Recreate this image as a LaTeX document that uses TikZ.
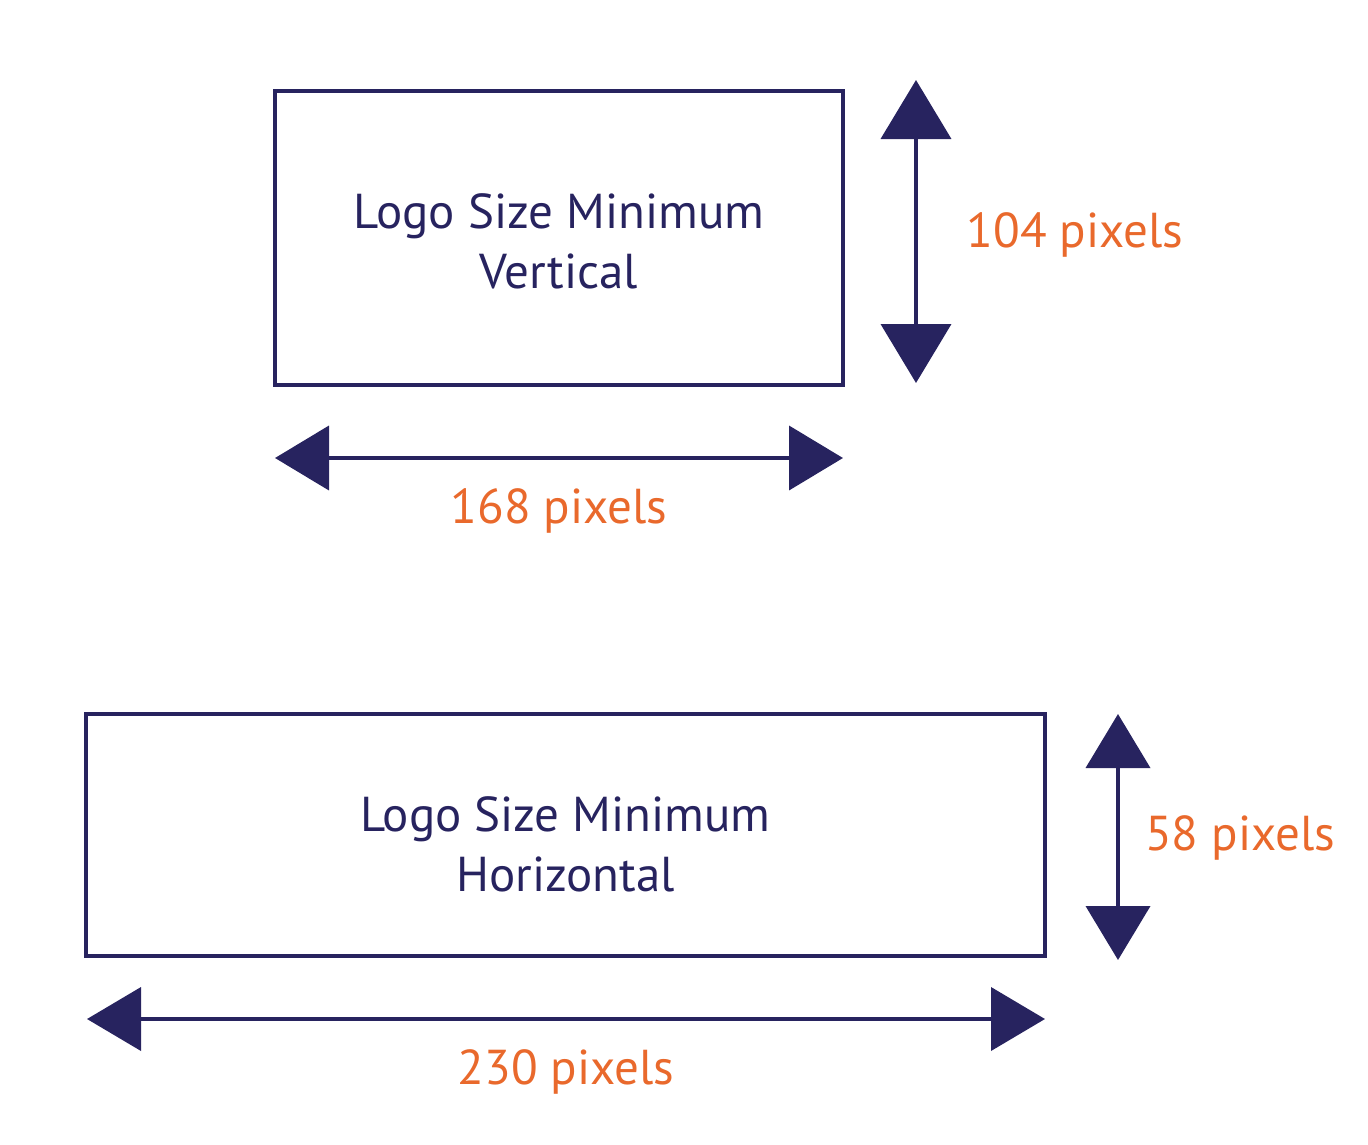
\documentclass[tikz,border=0pt]{standalone}
\usepackage{fontspec}
\setmainfont{PT Sans}
\usetikzlibrary{arrows.meta}
\definecolor{navy}{HTML}{27235F}
\definecolor{sizeorange}{HTML}{E9692C}

\begin{document}
\begin{tikzpicture}[x=1pt,y=-1pt,
    every node/.style={font=\fontsize{49}{60}\selectfont},
    logobox/.style={draw=navy, line width=3.5pt, inner sep=0pt},
    boxtext/.style={text=navy, align=center, inner sep=0pt},
    dimlabel/.style={text=sizeorange, inner sep=0pt},
    dimarrow/.style={draw=navy, fill=navy, line width=4pt}]
                \useasboundingbox (0,0) rectangle (1368,1144);

                % vertical logo
                \node[logobox, minimum width=568, minimum height=294] (vbox) at (559,238) {};
                \node[boxtext] (vtext) at ([yshift=-3pt]vbox.center) {Logo Size Minimum\\Vertical};
                \coordinate (vtop) at (916,80);
                \coordinate (vbot) at (916,383);
                \draw[dimarrow, {Triangle[length=59pt,width=70pt]}-{Triangle[length=59pt,width=70pt]}] (vtop) -- (vbot);
                \node[dimlabel] (vheight) at (1075,235) {104 pixels};
                \coordinate (vleft) at (275,458);
                \coordinate (vright) at (843,458);
                \draw[dimarrow, {Triangle[length=54pt,width=64pt]}-{Triangle[length=54pt,width=64pt]}] (vleft) -- (vright);
                \node[dimlabel] (vwidth) at (559,511) {168 pixels};

                % horizontal logo
                \node[logobox, minimum width=959, minimum height=242] (hbox) at (565.5,835) {};
                \node[boxtext] (htext) at ([yshift=-9pt]hbox.center) {Logo Size Minimum\\Horizontal};
                \coordinate (htop) at (1118,714);
                \coordinate (hbot) at (1118,960);
                \draw[dimarrow, {Triangle[length=54pt,width=64pt]}-{Triangle[length=54pt,width=64pt]}] (htop) -- (hbot);
                \node[dimlabel] (hheight) at (1240,838) {58 pixels};
                \coordinate (hleft) at (87,1019);
                \coordinate (hright) at (1045,1019);
                \draw[dimarrow, {Triangle[length=54pt,width=63pt]}-{Triangle[length=54pt,width=63pt]}] (hleft) -- (hright);
                \node[dimlabel] (hwidth) at (566,1072) {230 pixels};
            \end{tikzpicture}
\end{document}
